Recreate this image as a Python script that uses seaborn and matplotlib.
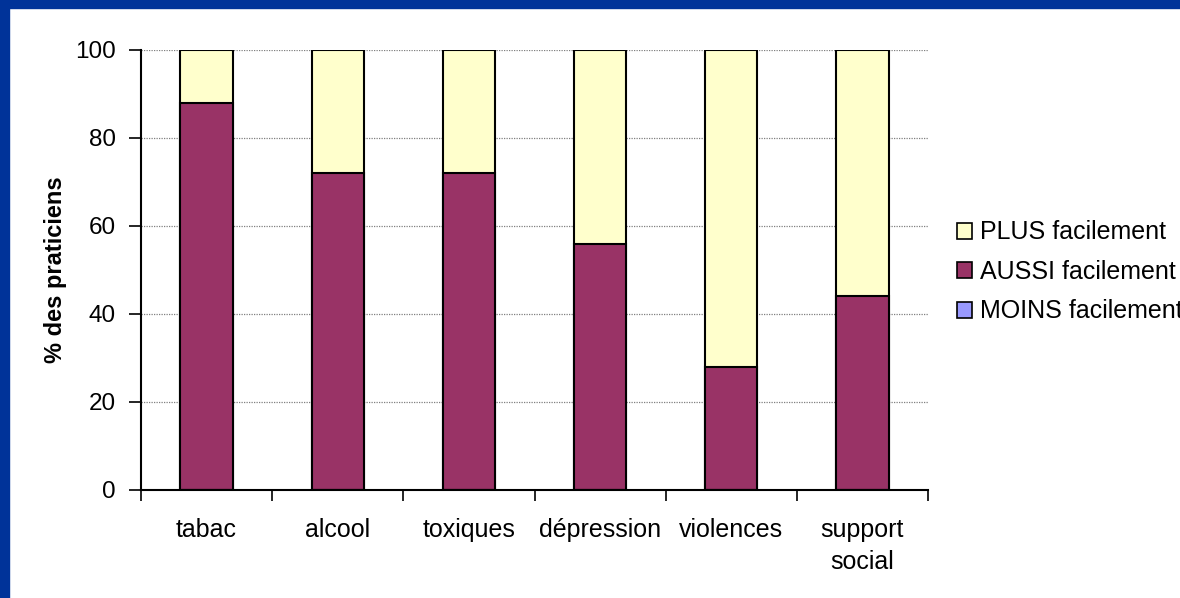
import matplotlib
matplotlib.use("Agg")
import matplotlib.pyplot as plt
from matplotlib.patches import Patch, Rectangle
import seaborn as sns
import pandas as pd
import numpy as np

categories = ["tabac", "alcool", "toxiques", "dépression", "violences", "support\nsocial"]
moins = [0, 0, 0, 0, 0, 0]
aussi = [88, 72, 72, 56, 28, 44]
plus = [12, 28, 28, 44, 72, 56]
y_ticks = [0, 20, 40, 60, 80, 100]

series_names = ["PLUS facilement", "AUSSI facilement", "MOINS facilement"]
colors = {"PLUS facilement": "#FFFFCC", "AUSSI facilement": "#993366", "MOINS facilement": "#9999FF"}

sns.set_theme(style="white")
plt.rcParams["font.family"] = ["Liberation Sans", "DejaVu Sans"]
plt.rcParams["text.color"] = "black"
plt.rcParams["axes.labelcolor"] = "black"
plt.rcParams["xtick.color"] = "black"
plt.rcParams["ytick.color"] = "black"

fig = plt.figure(figsize=(11.8, 5.98), dpi=100)
fig.patch.set_facecolor("white")
# blue frame
fig.patches.append(Rectangle((0, 0), 9 / 1180, 1, transform=fig.transFigure, color="#003399", zorder=0))
fig.patches.append(Rectangle((0, 1 - 8 / 598), 1, 8 / 598, transform=fig.transFigure, color="#003399", zorder=0))

ax = fig.add_axes([141 / 1180, 1 - 490 / 598, (928 - 141) / 1180, (490 - 50) / 598])

df = pd.DataFrame({"cat": categories, "moins": moins, "aussi": aussi, "plus": plus})
df["top_plus"] = df["moins"] + df["aussi"] + df["plus"]
df["top_aussi"] = df["moins"] + df["aussi"]
df["top_moins"] = df["moins"]

for col, name in [("top_plus", "PLUS facilement"), ("top_aussi", "AUSSI facilement"), ("top_moins", "MOINS facilement")]:
    sns.barplot(data=df, x="cat", y=col, color=colors[name], saturation=1, width=0.4,
                edgecolor="black", linewidth=1.5, ax=ax, zorder=3)

ax.set_ylim(0, 100)
ax.set_xlim(-0.5, len(categories) - 0.5)
ax.set_yticks(y_ticks)
ax.set_yticklabels([str(v) for v in y_ticks], fontsize=17.5, color="black")
ax.set_xticks(np.arange(len(categories)))
ax.set_xticklabels(categories, fontsize=18, color="black", linespacing=1.45, va="top")
ax.tick_params(axis="x", length=0, pad=20)
ax.tick_params(axis="y", length=9, width=1.2, direction="out", color="black", pad=9, left=True)
# minor ticks at category boundaries
ax.set_xticks(np.arange(-0.5, len(categories)), minor=True)
ax.tick_params(axis="x", which="minor", length=8, width=1.2, direction="out", color="black", bottom=True)

for v in y_ticks[1:]:
    ax.axhline(v, color="#808080", linestyle=(0, (1, 1)), linewidth=0.9, zorder=1)

for s in ["top", "right"]:
    ax.spines[s].set_visible(False)
for s in ["left", "bottom"]:
    ax.spines[s].set_color("black")
    ax.spines[s].set_linewidth(1.5)
    ax.spines[s].set_zorder(4)

ax.set_xlabel("")
ax.set_ylabel("% des praticiens", fontsize=17, fontweight="bold", labelpad=6, color="black")
ax.grid(False)

handles = [Patch(facecolor=colors[n], edgecolor="black", linewidth=1.2) for n in series_names]
leg = fig.legend(handles, series_names, loc="center left", bbox_to_anchor=(957 / 1180, 1 - 272 / 598),
                 frameon=False, fontsize=18, handlelength=0.6, handleheight=0.6, handletextpad=0.32,
                 labelspacing=0.62, borderaxespad=0, borderpad=0)
for t in leg.get_texts():
    t.set_color("black")

fig.savefig("out.png", dpi=100, facecolor="white")
